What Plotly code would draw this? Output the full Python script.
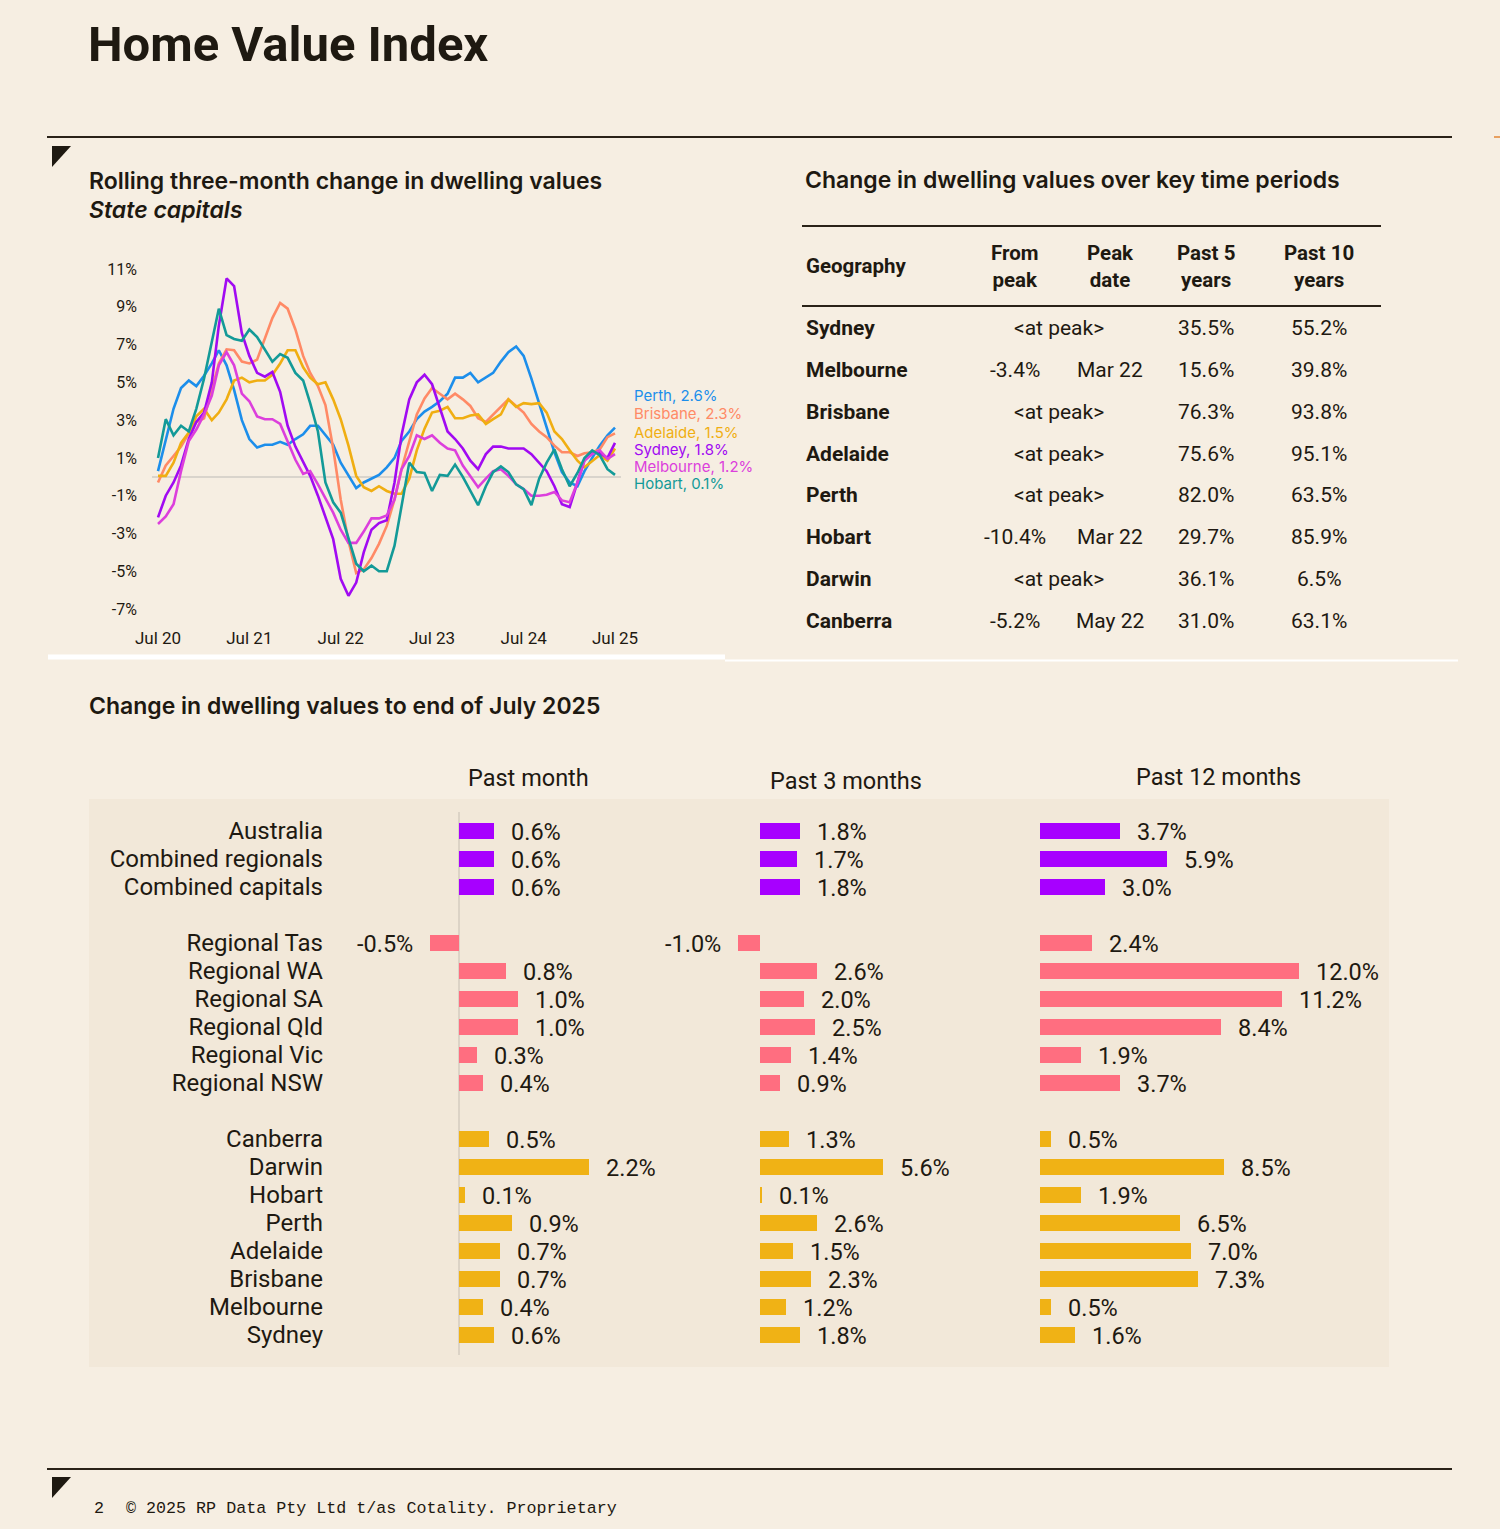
import plotly.graph_objects as go
import pandas as pd

W, H = 1500, 1529
def X(px): return px / W
def Y(py): return 1 - py / H

BG = "#F6EEE2"
PANEL = "#F2E8D9"
INK = "#1E1911"
FONT = "Roboto"
FONT2 = "Inter"

# ---------------- Line chart data (rolling 3-month change, %) ----------------
months = pd.date_range("2020-07-01", periods=61, freq="MS")
sydney = [-2.15, -1.0, -0.3, 0.6, 2.0, 2.9, 3.4, 5.0, 8.0, 10.5, 10.1, 7.6, 6.4, 5.5, 5.3, 5.55,
          4.5, 2.7, 1.6, 0.8, 0.05, -1.0, -2.1, -3.3, -5.4, -6.3, -5.6, -4.0, -2.8, -2.45, -2.3,
          -0.3, 2.2, 4.1, 5.0, 5.4, 4.9, 3.6, 2.4, 2.0, 1.5, 0.85, 0.4, 1.2, 1.6, 1.6, 1.5, 1.5,
          1.5, 1.2, 0.75, 0.3, -0.5, -1.45, -1.6, -0.3, 0.9, 1.3, 1.25, 1.0, 1.8]
melbourne = [-2.5, -2.1, -1.45, 0.3, 1.9, 2.5, 3.3, 4.3, 5.9, 6.6, 5.9, 4.4, 4.0, 3.2, 3.05, 3.05,
             2.8, 1.9, 0.9, 0.15, 0.3, -0.4, -1.1, -1.9, -2.8, -3.5, -3.5, -2.9, -2.2, -2.2, -2.05,
             -1.2, 0.4, 1.1, 2.2, 2.0, 2.2, 1.8, 1.5, 1.4, 0.6, 0.0, -0.55, -0.1, 0.3, 0.4, 0.05,
             -0.4, -0.65, -1.0, -1.0, -0.95, -0.8, -1.25, -1.35, -0.3, 0.85, 1.2, 1.4, 0.95, 1.2]
brisbane = [-0.3, 0.6, 1.1, 1.6, 2.3, 2.9, 3.1, 4.6, 6.0, 6.75, 6.7, 6.1, 6.0, 6.2, 7.3, 8.4,
            9.2, 8.9, 7.8, 6.4, 5.5, 4.8, 3.8, 1.5, -1.2, -3.4, -5.1, -4.9, -4.3, -3.55, -2.6,
            -1.2, 0.4, 1.9, 3.3, 4.15, 4.7, 4.4, 4.1, 4.4, 4.1, 3.75, 3.1, 2.9, 3.3, 3.7, 4.1,
            3.75, 3.4, 2.8, 2.4, 2.1, 1.65, 1.3, 1.3, 1.1, 1.25, 1.3, 1.45, 2.1, 2.3]
adelaide = [0.05, 0.05, 0.75, 1.8, 2.35, 3.2, 3.6, 3.0, 3.4, 4.1, 5.1, 5.25, 5.0, 5.1, 5.1, 5.4,
            6.0, 6.7, 6.7, 5.8, 5.25, 4.9, 5.0, 4.1, 3.05, 1.65, 0.05, -0.55, -0.75, -0.5, -0.75,
            -0.9, -0.9, -0.1, 1.4, 2.55, 3.4, 3.5, 3.7, 3.1, 3.1, 3.25, 3.3, 2.8, 3.05, 3.3, 4.1,
            3.7, 3.9, 3.85, 3.9, 3.4, 2.4, 2.0, 1.4, 0.85, 0.5, 0.85, 1.15, 0.85, 1.5]
perth = [0.3, 2.0, 3.6, 4.7, 5.1, 4.8, 5.35, 6.0, 6.7, 5.9, 4.6, 3.0, 2.0, 1.55, 1.7, 1.7,
         1.85, 1.7, 2.0, 2.25, 2.7, 2.7, 2.2, 1.7, 0.75, 0.05, -0.6, -0.3, -0.1, 0.1, 0.5,
         1.0, 1.9, 2.4, 3.05, 3.45, 3.7, 4.0, 4.4, 5.25, 5.25, 5.5, 5.0, 5.25, 5.5, 6.1, 6.6,
         6.9, 6.4, 5.2, 3.9, 2.7, 1.3, 0.25, -0.3, -0.5, 0.3, 1.0, 1.65, 2.2, 2.6]
hobart = [1.0, 3.05, 2.2, 2.7, 2.4, 3.6, 5.2, 7.2, 8.9, 7.5, 7.3, 7.2, 7.8, 7.4, 6.75, 6.1,
          6.5, 6.3, 5.5, 5.1, 3.9, 2.4, -0.3, -1.35, -1.9, -3.3, -4.6, -5.0, -4.7, -5.0, -5.0,
          -3.65, -1.55, 0.75, 0.25, 0.2, -0.75, 0.1, 0.05, 0.65, 0.0, -0.75, -1.5, -0.5, 0.25,
          0.55, 0.25, -0.4, -0.65, -1.5, -0.1, 0.75, 1.45, 0.4, -0.5, 0.2, 1.0, 1.4, 1.15, 0.4, 0.1]

line_names = ["Perth", "Brisbane", "Adelaide", "Sydney", "Melbourne", "Hobart"]
line_values = [perth, brisbane, adelaide, sydney, melbourne, hobart]
line_colors = ["#1C8EEB", "#FF8A66", "#F0AE12", "#A10AF2", "#DC3FDC", "#139A98"]
label_y = [4.32, 3.33, 2.37, 1.42, 0.52, -0.33]   # label placement (layout)

y_ticks = [11, 9, 7, 5, 3, 1, -1, -3, -5, -7]
x_tick_dates = pd.date_range("2020-07-01", periods=6, freq="12MS")
x_tick_text = ["Jul 20", "Jul 21", "Jul 22", "Jul 23", "Jul 24", "Jul 25"]

# ---------------- Table data ----------------
geo = ["Sydney", "Melbourne", "Brisbane", "Adelaide", "Perth", "Hobart", "Darwin", "Canberra"]
from_peak = [None, -3.4, None, None, None, -10.4, None, -5.2]
peak_date = [None, "Mar 22", None, None, None, "Mar 22", None, "May 22"]
past5 = [35.5, 15.6, 76.3, 75.6, 82.0, 29.7, 36.1, 31.0]
past10 = [55.2, 39.8, 93.8, 95.1, 63.5, 85.9, 6.5, 63.1]
table_headers = ["Geography", "From<br>peak", "Peak<br>date", "Past 5<br>years", "Past 10<br>years"]

# ---------------- Bar data ----------------
regions = ["Australia", "Combined regionals", "Combined capitals",
           "Regional Tas", "Regional WA", "Regional SA", "Regional Qld", "Regional Vic", "Regional NSW",
           "Canberra", "Darwin", "Hobart", "Perth", "Adelaide", "Brisbane", "Melbourne", "Sydney"]
groups = ["national"] * 3 + ["regional"] * 6 + ["capital"] * 8
past_month = [0.6, 0.6, 0.6, -0.5, 0.8, 1.0, 1.0, 0.3, 0.4, 0.5, 2.2, 0.1, 0.9, 0.7, 0.7, 0.4, 0.6]
past_3m = [1.8, 1.7, 1.8, -1.0, 2.6, 2.0, 2.5, 1.4, 0.9, 1.3, 5.6, 0.1, 2.6, 1.5, 2.3, 1.2, 1.8]
past_12m = [3.7, 5.9, 3.0, 2.4, 12.0, 11.2, 8.4, 1.9, 3.7, 0.5, 8.5, 1.9, 6.5, 7.0, 7.3, 0.5, 1.6]
period_titles = ["Past month", "Past 3 months", "Past 12 months"]
group_colors = {"national": "#A700FF", "regional": "#FF6E80", "capital": "#F0B215"}

# row positions with a blank row between groups
rows = []
gap = 0
for i, g in enumerate(groups):
    if i > 0 and g != groups[i - 1]:
        gap += 1
    rows.append(i + gap)

fig = go.Figure()

# ---- line chart ----
for name, vals, col in zip(line_names, line_values, line_colors):
    fig.add_trace(go.Scatter(x=months, y=vals, mode="lines", name=name,
                             line=dict(color=col, width=2.6), xaxis="x4", yaxis="y4",
                             hoverinfo="skip", showlegend=False))

annotations = []
for name, vals, col, ly in zip(line_names, line_values, line_colors, label_y):
    annotations.append(dict(x=months[-1], y=ly, xref="x4", yref="y4", xanchor="left", yanchor="middle",
                            xshift=17, text=f"{name}, {vals[-1]:.1f}%", showarrow=False,
                            font=dict(family=FONT2, size=15, color=col)))

# ---- bars ----
axes = [("x", "y"), ("x2", "y"), ("x3", "y")]
for vals, (xa, ya) in zip([past_month, past_3m, past_12m], axes):
    fig.add_trace(go.Bar(x=vals, y=rows, orientation="h", width=0.6,
                         marker=dict(color=[group_colors[g] for g in groups], line=dict(width=0)),
                         xaxis=xa, yaxis=ya, hoverinfo="skip", showlegend=False))
    for v, r in zip(vals, rows):
        annotations.append(dict(x=v, y=r, xref=xa, yref=ya, showarrow=False,
                                xanchor="left" if v >= 0 else "right", yanchor="middle",
                                xshift=15 if v >= 0 else -15, yshift=-1,
                                text=f"{v:.1f}%", font=dict(family=FONT, size=23.5, color=INK)))

# ---- text: titles ----
def txt(x, y, s, size, bold=False, italic=False, anchor="left", color=INK, family=FONT, weight=None):
    if bold:
        s = f"<b>{s}</b>"
    if italic:
        s = f"<i>{s}</i>"
    f = dict(family=family, size=size, color=color)
    if weight:
        f["weight"] = weight
    annotations.append(dict(x=X(x), y=Y(y), xref="paper", yref="paper", text=s, showarrow=False,
                            xanchor=anchor, yanchor="middle", font=f))

txt(86, 44, "Home Value Index", 49, bold=True)
txt(87, 181, "Rolling three-month change in dwelling values", 23, family=FONT2, weight=600)
txt(87, 210, "State capitals", 23, italic=True, family=FONT2, weight=600)
txt(803, 180, "Change in dwelling values over key time periods", 23, family=FONT2, weight=600)
txt(87, 706, "Change in dwelling values to end of July 2025", 23, family=FONT2, weight=600)
for t, cx, cy in zip(period_titles, [528, 846, 1218], [778, 781, 777]):
    txt(cx, cy, t, 23.5, anchor="center")
txt(99, 1508, "2", 16.7, family="Liberation Mono", anchor="center")
txt(124, 1508, "© 2025 RP Data Pty Ltd t/as Cotality. Proprietary", 16.7, family="Liberation Mono")

# ---- table ----
col_x = [804, 1015, 1110, 1206, 1319]
for i, h in enumerate(table_headers):
    txt(col_x[i], 266, h, 20.5, bold=True, anchor="left" if i == 0 else "center")
row_y0, row_dy = 328, 41.85
for i, gname in enumerate(geo):
    yy = row_y0 + i * row_dy
    txt(col_x[0], yy, gname, 21, bold=True)
    if from_peak[i] is None:
        txt(1059, yy, "&lt;at peak&gt;", 21, anchor="center")
    else:
        txt(col_x[1], yy, f"{from_peak[i]:.1f}%", 21, anchor="center")
        txt(col_x[2], yy, peak_date[i], 21, anchor="center")
    txt(col_x[3], yy, f"{past5[i]:.1f}%", 21, anchor="center")
    txt(col_x[4], yy, f"{past10[i]:.1f}%", 21, anchor="center")

# ---- shapes ----
shapes = []
def hline(x0, x1, y, color, w):
    shapes.append(dict(type="line", xref="paper", yref="paper", x0=X(x0), x1=X(x1), y0=Y(y), y1=Y(y),
                       line=dict(color=color, width=w)))
hline(47, 1452, 137, "#2A2218", 2)
hline(47, 1452, 1469, "#2A2218", 2)
hline(1494, 1500, 137, "#E8A060", 2)
hline(802, 1381, 226, "#2A2218", 2)
hline(802, 1381, 306, "#2A2218", 2)
hline(48, 725, 657, "#FFFFFF", 5)
hline(725, 1458, 660.5, "#FFFFFF", 2)
shapes.append(dict(type="rect", xref="paper", yref="paper", x0=X(89), x1=X(1389), y0=Y(1367), y1=Y(799),
                   fillcolor=PANEL, line=dict(width=0), layer="below"))
for ty in (146, 1477):
    shapes.append(dict(type="path", xref="paper", yref="paper",
                       path=f"M {X(52)} {Y(ty)} L {X(71)} {Y(ty)} L {X(52)} {Y(ty + 21)} Z",
                       fillcolor="#1E1911", line=dict(width=0)))

# ---- axes ----
hidden_x = dict(showgrid=False, showticklabels=False, ticks="", showline=False, fixedrange=True,
                automargin=False)
fig.update_layout(
    width=W, height=H, autosize=False, margin=dict(l=0, r=0, t=0, b=0, pad=0),
    paper_bgcolor=BG, plot_bgcolor="rgba(0,0,0,0)",
    font=dict(family=FONT, color=INK),
    showlegend=False, bargap=0,
    xaxis=dict(domain=[X(330), X(700)], range=[(330 - 459) / 59, (700 - 459) / 59], anchor="y",
               zeroline=True, zerolinecolor="#DCD3C6", zerolinewidth=2, **hidden_x),
    xaxis2=dict(domain=[X(640), X(1000)], range=[(640 - 760) / 22, (1000 - 760) / 22], anchor="y",
                zeroline=False, **hidden_x),
    xaxis3=dict(domain=[X(1000), X(1390)], range=[(1000 - 1040) / 21.6, (1390 - 1040) / 21.6], anchor="y",
                zeroline=False, **hidden_x),
    yaxis=dict(domain=[Y(1355), Y(812)], range=[(1355 - 831) / 28, (812 - 831) / 28], anchor="x",
               tickmode="array", tickvals=rows, ticktext=regions, ticks="", showgrid=False,
               zeroline=False, showline=False, ticklabelstandoff=6, automargin=False,
               tickfont=dict(family=FONT, size=24, color=INK)),
    xaxis4=dict(domain=[X(152), X(621)], range=["2020-06-07", "2025-07-25"], anchor="y4",
                tickmode="array", tickvals=x_tick_dates, ticktext=x_tick_text, ticks="",
                showgrid=False, zeroline=False, showline=False, ticklabelstandoff=8, automargin=False,
                tickfont=dict(family=FONT, size=17, color=INK)),
    yaxis4=dict(domain=[Y(618), Y(260)], range=[(476.8 - 618) / 18.89, (476.8 - 260) / 18.89], anchor="x4",
                tickmode="array", tickvals=y_ticks, ticktext=[f"{v}%" for v in y_ticks], ticks="",
                showgrid=False, zeroline=True, zerolinecolor="#D9D4CC", zerolinewidth=2,
                showline=False, ticklabelstandoff=14, automargin=False,
                tickfont=dict(family=FONT, size=16, color=INK)),
    annotations=annotations, shapes=shapes,
)

fig.write_html("out.html", config={"displayModeBar": False},
               post_script="document.body.style.margin='0';document.body.style.overflow='hidden';")
